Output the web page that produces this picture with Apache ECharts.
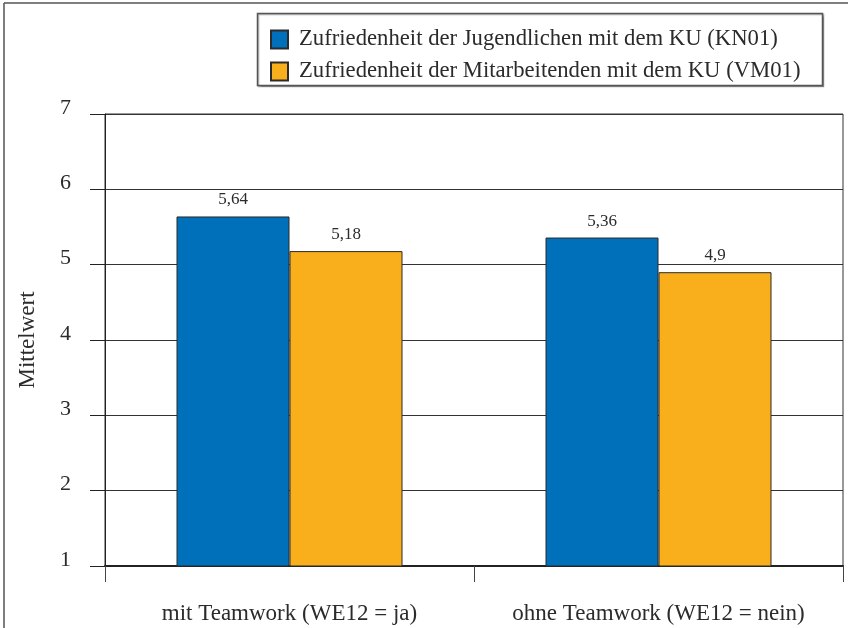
<!DOCTYPE html>
<html lang="de">
<head>
	<meta charset="utf-8" />
	<title>Zufriedenheit mit dem KU</title>
	<style>
		html, body { margin: 0; padding: 0; background: #fff; }
		#chart { width: 848px; height: 628px; }
	</style>
</head>
<body>
	<div id="chart"></div>
	<script src="https://cdn.jsdelivr.net/npm/echarts@6/dist/echarts.min.js"></script>
	<script type="text/javascript">
		// Daten
		const categories = ["mit Teamwork (WE12 = ja)", "ohne Teamwork (WE12 = nein)"];
		const seriesNames = [
			"Zufriedenheit der Jugendlichen mit dem KU (KN01)",
			"Zufriedenheit der Mitarbeitenden mit dem KU (VM01)"
		];
		const kn01 = [5.64, 5.36];
		const vm01 = [5.18, 4.9];
		const yMin = 1;
		const yMax = 7;

		const font = "'Liberation Serif', 'DejaVu Serif', serif";
		const textColor = "#2b2b2b";

		// Werte mit Komma statt Punkt
		function deNum(v) {
			return String(v).replace(".", ",");
		}

		const chart = echarts.init(document.getElementById("chart"), null, { renderer: "canvas" });
		const opt = {
			backgroundColor: "#fff",
			animation: false,
			textStyle: { fontFamily: font, color: textColor },
			graphic: [
				// Rahmen oben / links
				{ type: "line", shape: { x1: 4, y1: 3, x2: 848, y2: 3 }, style: { stroke: "#555", lineWidth: 1.5 } },
				{ type: "line", shape: { x1: 4, y1: 3, x2: 4, y2: 628 }, style: { stroke: "#555", lineWidth: 1.5 } },
				// Legendenkasten
				{ type: "rect", z: 1, shape: { x: 257.5, y: 13.5, width: 565, height: 72 },
					style: { fill: "#fff", stroke: "#555", lineWidth: 1.5, shadowColor: "rgba(0,0,0,0.3)", shadowOffsetX: 1, shadowOffsetY: 1, shadowBlur: 1 } }
			],
			legend: {
				orient: "vertical",
				left: 270,
				top: 28,
				padding: 0,
				itemWidth: 17,
				itemHeight: 18,
				itemGap: 9,
				icon: "rect",
				z: 5,
				textStyle: { fontFamily: font, fontSize: 22.7, lineHeight: 18, color: textColor, padding: [0, 0, 0, 6] },
				data: seriesNames
			},
			grid: {
				left: 105,
				right: 5,
				top: 114,
				bottom: 62,
				show: true,
				borderColor: "#333",
				borderWidth: 1
			},
			xAxis: {
				type: "category",
				data: categories,
				axisLine: { lineStyle: { color: "#222", width: 2 } },
				axisTick: { show: true, length: 16, lineStyle: { color: "#444", width: 1 } },
				axisLabel: { interval: 0, fontFamily: font, fontSize: 23, color: textColor, margin: 36 }
			},
			yAxis: {
				type: "value",
				min: yMin,
				max: yMax,
				interval: 1,
				name: "Mittelwert",
				nameLocation: "middle",
				nameGap: 66,
				nameTextStyle: { fontFamily: font, fontSize: 23, color: textColor },
				axisLine: { show: true, lineStyle: { color: "#222", width: 1 } },
				axisTick: { show: true, length: 15, lineStyle: { color: "#222", width: 1 } },
				axisLabel: { fontFamily: font, fontSize: 22, color: textColor, margin: 34, verticalAlign: "bottom", lineHeight: 12 },
				splitLine: { show: true, lineStyle: { color: "#333", width: 1 } }
			},
			series: [
				{
					name: seriesNames[0],
					type: "bar",
					barWidth: 113,
					barGap: "0%",
					data: kn01,
					itemStyle: { color: "#0070BA", borderColor: "#2b2b2b", borderWidth: 1 },
					label: {
						show: true, position: "top", distance: 8,
						fontFamily: font, fontSize: 17, color: textColor,
						formatter: function (p) { return deNum(p.value); }
					}
				},
				{
					name: seriesNames[1],
					type: "bar",
					barWidth: 113,
					barGap: "0%",
					data: vm01,
					itemStyle: { color: "#F9AE1B", borderColor: "#2b2b2b", borderWidth: 1 },
					label: {
						show: true, position: "top", distance: 8,
						fontFamily: font, fontSize: 17, color: textColor,
						formatter: function (p) { return deNum(p.value); }
					}
				}
			]
		};
		chart.setOption(opt);
	</script>
</body>
</html>
